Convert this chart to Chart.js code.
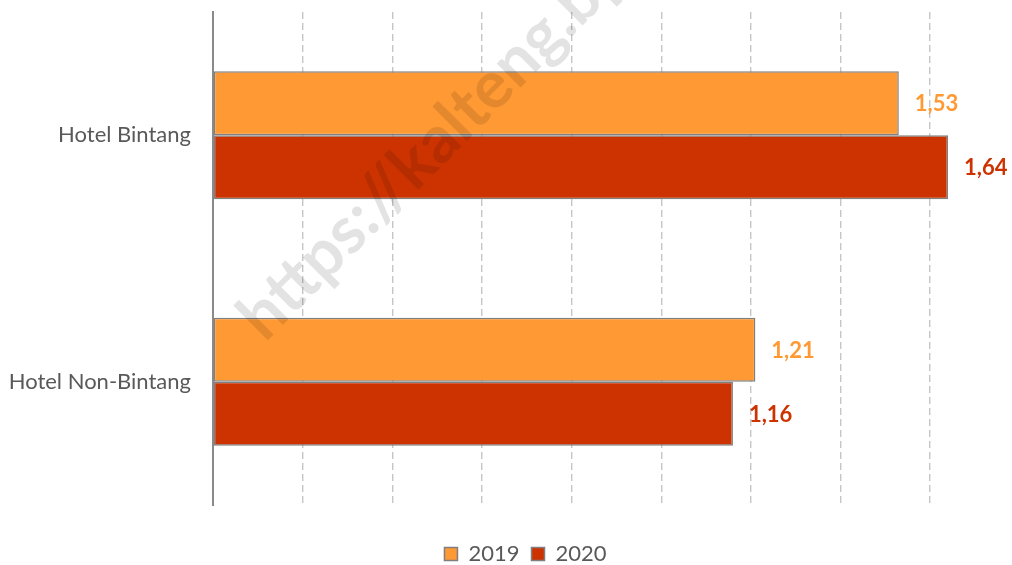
<!DOCTYPE html>
<html>
<head>
<meta charset="utf-8">
<script src="https://cdn.jsdelivr.net/npm/chart.js@4/dist/chart.umd.min.js"></script>
<style>
  html, body { margin: 0; padding: 0; background: #ffffff; }
  #wrap { width: 1012px; height: 565px; }
</style>
</head>
<body>
<div id="wrap"><canvas id="c" width="1012" height="565"></canvas></div>
<script>
const categories = ["Hotel Bintang", "Hotel Non-Bintang"];
const seriesNames = ["2019", "2020"];
const values2019 = [1.53, 1.21];
const values2020 = [1.64, 1.16];
const watermarkText = "https://kalteng.bps.go.id";

const ORANGE = "#FF9933";
const RED = "#CC3300";
const FONT = "Lato, Carlito, 'Open Sans', sans-serif";

const labelPlugin = {
  id: "valueLabels",
  afterDatasetsDraw(chart) {
    const ctx = chart.ctx;
    ctx.save();
    ctx.font = "bold 22px " + FONT;
    ctx.textAlign = "left";
    ctx.textBaseline = "middle";
    chart.data.datasets.forEach((ds, di) => {
      const meta = chart.getDatasetMeta(di);
      meta.data.forEach((bar, i) => {
        const v = ds.data[i];
        ctx.fillStyle = ds.labelColor;
        ctx.fillText(v.toFixed(2).replace(".", ","), bar.x + 16, bar.y + 1);
      });
    });
    ctx.restore();
  }
};

const watermarkPlugin = {
  id: "watermark",
  afterDraw(chart) {
    const ctx = chart.ctx;
    ctx.save();
    ctx.translate(265, 343);
    ctx.rotate(-45 * Math.PI / 180);
    ctx.font = "bold 66px " + FONT;
    ctx.fillStyle = "rgba(0,0,0,0.11)";
    ctx.textBaseline = "alphabetic";
    ctx.fillText(watermarkText, 0, 0);
    ctx.restore();
  }
};

const legendShift = {
  id: "legendShift",
  afterLayout(chart) {
    const lg = chart.legend;
    if (lg) { lg.left += 38; lg.right += 38; }
  }
};

new Chart(document.getElementById("c"), {
  type: "bar",
  data: {
    labels: categories,
    datasets: [
      { label: seriesNames[0], data: values2019, backgroundColor: ORANGE, borderColor: "#7f7f7f", borderWidth: 1.5, borderSkipped: false, labelColor: ORANGE },
      { label: seriesNames[1], data: values2020, backgroundColor: RED, borderColor: "#7f7f7f", borderWidth: 1.5, borderSkipped: false, labelColor: RED }
    ]
  },
  options: {
    indexAxis: "y",
    responsive: false,
    animation: false,
    devicePixelRatio: 1,
    categoryPercentage: 0.52,
    barPercentage: 1.0,
    layout: { padding: { top: 12, right: 37, left: 0, bottom: -10 } },
    plugins: {
      legend: {
        position: "bottom",
        labels: {
          boxWidth: 13, boxHeight: 13,
          color: "#595959",
          font: { family: FONT, size: 22 },
          padding: 12
        }
      },
      tooltip: { enabled: false }
    },
    scales: {
      x: {
        min: 0, max: 1.7,
        ticks: { display: false, stepSize: 0.2 },
        grid: {
          drawTicks: false,
          lineWidth: 1.4,
          color: (c) => (c.tick && Math.abs(c.tick.value - 1.7) < 0.01) ? "rgba(0,0,0,0)" : "#c6c6c6"
        },
        border: { display: false, dash: [7, 4] },
        afterFit(scale) { scale.height = 26; scale.paddingLeft = 0; scale.paddingRight = 0; }
      },
      y: {
        grid: { display: false, drawTicks: false },
        border: { display: true, color: "#8a8a8a", width: 2 },
        ticks: { color: "#595959", font: { family: FONT, size: 22 }, padding: 22 },
        afterFit(scale) { scale.width = 213; scale.paddingTop = 0; scale.paddingBottom = 0; }
      }
    }
  },
  plugins: [labelPlugin, watermarkPlugin, legendShift]
});
</script>
</body>
</html>
